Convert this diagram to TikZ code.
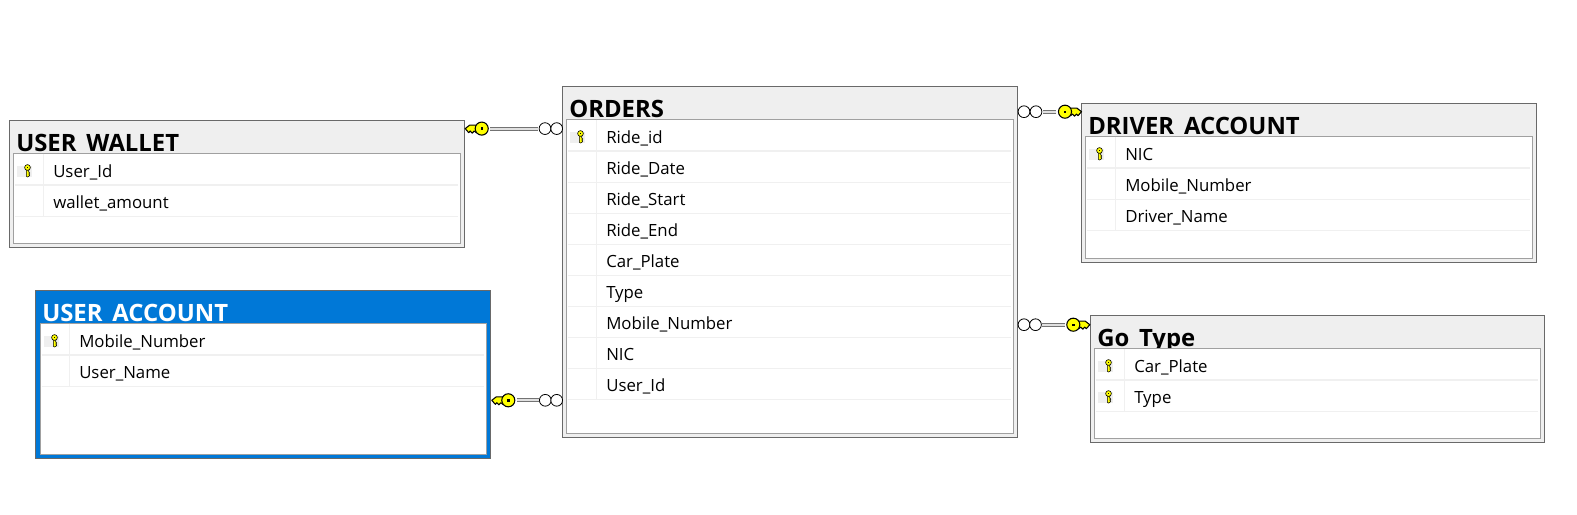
\documentclass[tikz,border=0pt]{standalone}
\usepackage{fontspec}
\setmainfont{Open Sans}
\usetikzlibrary{fit}
\definecolor{paneblue}{HTML}{0078D7}
\definecolor{panegray}{HTML}{EFEFEF}
\definecolor{edgeouter}{HTML}{696969}
\definecolor{edgeinner}{HTML}{A0A0A0}
\definecolor{rowline}{HTML}{F0F0F0}
\definecolor{keyyellow}{HTML}{FFFF00}
\newcommand\tus{\raisebox{-4pt}{\_}}
\tikzset{
  tblplain/.style={rectangle,draw=edgeouter,fill=panegray,line width=.85pt,inner sep=0pt},
  tblblue/.style={rectangle,draw=edgeouter,fill=paneblue,line width=.6pt,inner sep=0pt},
  tblbody/.style={rectangle,draw=edgeinner,fill=white,line width=.85pt,inner sep=0pt},
  tbltitle/.style={anchor=base west,inner sep=0pt,font=\fontsize{17.9}{20}\selectfont\bfseries},
  rowtext/.style={anchor=base west,inner sep=0pt,text=black,font=\fontsize{12.6}{15}\selectfont},
  rowrule/.style={draw=rowline,line width=.8pt},
  keybg/.style={fill=panegray,draw=none},
  rolecircle/.style={circle,draw=black,fill=white,line width=.6pt,minimum size=8.8pt,inner sep=0pt},
  keyhead/.style={circle,draw=black,fill=keyyellow,line width=.8pt,minimum size=9.8pt,inner sep=0pt},
  relline/.style={draw=black!55,double=black!12,double distance=1.5pt,line width=.7pt},
  bigkeyshaft/.pic={
    \draw[fill=keyyellow,draw=black,line width=.8pt,line join=round]
      (-2,-3.5)--(-12,-3.5)--(-16.5,0)--(-13,4)--(-11.5,2.4)--(-9.5,4.5)--(-7.5,2.4)--(-5.5,4)--(-2,3.5)--cycle;
  },
  smallkey/.pic={
    \draw[fill=keyyellow,draw=black,line width=.45pt]
      (-1.2,2)--(1.2,2)--(1.2,4.5)--(2.3,5.5)--(1.2,6.5)--(2.3,7.5)--(1.2,9)--(-.3,9.5)--(-1.2,8.5)--cycle;
    \draw[fill=keyyellow,draw=black,line width=.45pt] (0,0) circle[radius=2.9];
    \fill[black] (-.6,-.6) rectangle (.6,.6);
  },
}
\newcommand\ertable[9]{%
  \def\tn{#1}\def\xa{#2}\def\ya{#3}\def\xb{#4}\def\yb{#5}%
  \def\ixa{#6}\def\iya{#7}\def\ixb{#8}\def\iyb{#9}\ertablerest}
\newcommand\ertablerest[5]{%
  % #1 column x, #2 frame style, #3 title colour, #4 title, #5 rows
  \node[#2,fit={(\xa,\ya)(\xb,\yb)}] (\tn) {};
  \pgfmathsetmacro\titlex{\xa+6.5}
  \pgfmathsetmacro\titley{\iya-1.7}
  \node[tbltitle,text=#3] (\tn-title) at (\titlex,\titley) {#4};
  \node[tblbody,fit={(\ixa,\iya)(\ixb,\iyb)}] (\tn-body) {};
  \def\kflag{k}
  \pgfmathsetmacro\rowend{\ixb-2.5}
  \pgfmathsetmacro\rowstart{\ixa+1}
  \pgfmathsetmacro\textx{#1+9.5}
  \foreach \rowlabel/\rowflag [count=\ri from 0] in {#5}{
    \pgfmathsetmacro\rtop{\iya+31.04*\ri}
    \pgfmathsetmacro\rbot{\rtop+31.5}
    \pgfmathsetmacro\rbase{\rtop+23.7}
    \draw[rowrule] (\rowstart,\rbot) -- (\rowend,\rbot);
    \draw[rowrule] (#1,\rtop) -- (#1,\rbot);
    \ifx\rowflag\kflag
      \pgfmathsetmacro\bgxa{\ixa+3.7}
      \pgfmathsetmacro\bgxb{\ixa+18.7}
      \pgfmathsetmacro\bgya{\rtop+12.2}
      \pgfmathsetmacro\bgyb{\rtop+23.4}
      \pgfmathsetmacro\kx{\ixa+14}
      \pgfmathsetmacro\ky{\rtop+14}
      \fill[keybg] (\bgxa,\bgya) rectangle (\bgxb,\bgyb);
      \pic at (\kx,\ky) {smallkey};
    \fi
    \node[rowtext] (\tn-r\ri) at (\textx,\rbase) {\rowlabel};
  }
}
\begin{document}
\begin{tikzpicture}[x=.75pt,y=-.75pt]
\useasboundingbox (0,0) rectangle (1577,514);
\fill[white] (0,0) rectangle (1577,514);

\ertable{wallet}{9.5}{120.5}{464.5}{247.5}{13.5}{153.5}{460.5}{243.5}{43.5}{tblplain}{black}{USER\tus WALLET}
  {User\_Id/k,wallet\_amount/n}
\ertable{account}{35.5}{290.5}{490.5}{458.5}{40.5}{323.5}{486.5}{454.5}{69.5}{tblblue}{white}{USER\tus ACCOUNT}
  {Mobile\_Number/k,User\_Name/n}
\ertable{orders}{562.5}{86.5}{1017.5}{437.5}{566.5}{119.5}{1013.5}{433.5}{596.5}{tblplain}{black}{ORDERS}
  {Ride\_id/k,Ride\_Date/n,Ride\_Start/n,Ride\_End/n,Car\_Plate/n,Type/n,Mobile\_Number/n,NIC/n,User\_Id/n}
\ertable{driver}{1081.5}{103.5}{1536.5}{262.5}{1085.5}{136.5}{1532.5}{258.5}{1115.5}{tblplain}{black}{DRIVER\tus ACCOUNT}
  {NIC/k,Mobile\_Number/n,Driver\_Name/n}
\ertable{gotype}{1090.5}{315.5}{1544.5}{442.5}{1094.5}{348.5}{1540.5}{438.5}{1124.5}{tblplain}{black}{Go\tus Type}
  {Car\_Plate/k,Type/k}

% wallet -- orders
\pic at (481.7,128.6) {bigkeyshaft};
\node[keyhead] (kw) at (481.7,128.6) {};
\fill (480.5,127.4) rectangle (482.9,129.8);
\node[rolecircle] (cw1) at (545,128.6) {};
\node[rolecircle] (cw2) at (556.7,128.6) {};
\draw[relline] (kw.east) ++(1.6,0) coordinate (kwa) (cw1.west) ++(-.5,0) coordinate (cwa) (kwa) -- (cwa);

% account -- orders
\pic at (508.3,400.3) {bigkeyshaft};
\node[keyhead] (ka) at (508.3,400.3) {};
\fill (507.1,399.1) rectangle (509.5,401.5);
\node[rolecircle] (ca1) at (545.3,400.3) {};
\node[rolecircle] (ca2) at (556.7,400.3) {};
\draw[relline] (ka.east) ++(1.6,0) coordinate (kaa) (ca1.west) ++(-.5,0) coordinate (caa) (kaa) -- (caa);

% orders -- driver
\pic[xscale=-1] at (1065,111.7) {bigkeyshaft};
\node[keyhead] (kd) at (1065,111.7) {};
\fill (1063.8,110.5) rectangle (1066.2,112.9);
\node[rolecircle] (cd1) at (1024,111.7) {};
\node[rolecircle] (cd2) at (1036,111.7) {};
\draw[relline] (kd.west) ++(-1.6,0) coordinate (kda) (cd2.east) ++(.5,0) coordinate (cda) (kda) -- (cda);

% orders -- go type
\pic[xscale=-1] at (1073.3,324.7) {bigkeyshaft};
\node[keyhead] (kg) at (1073.3,324.7) {};
\fill (1072.1,323.5) rectangle (1074.5,325.9);
\node[rolecircle] (cg1) at (1024,324.7) {};
\node[rolecircle] (cg2) at (1035.5,324.7) {};
\draw[relline] (kg.west) ++(-1.6,0) coordinate (kga) (cg2.east) ++(.5,0) coordinate (cga) (kga) -- (cga);
\end{tikzpicture}
\end{document}
